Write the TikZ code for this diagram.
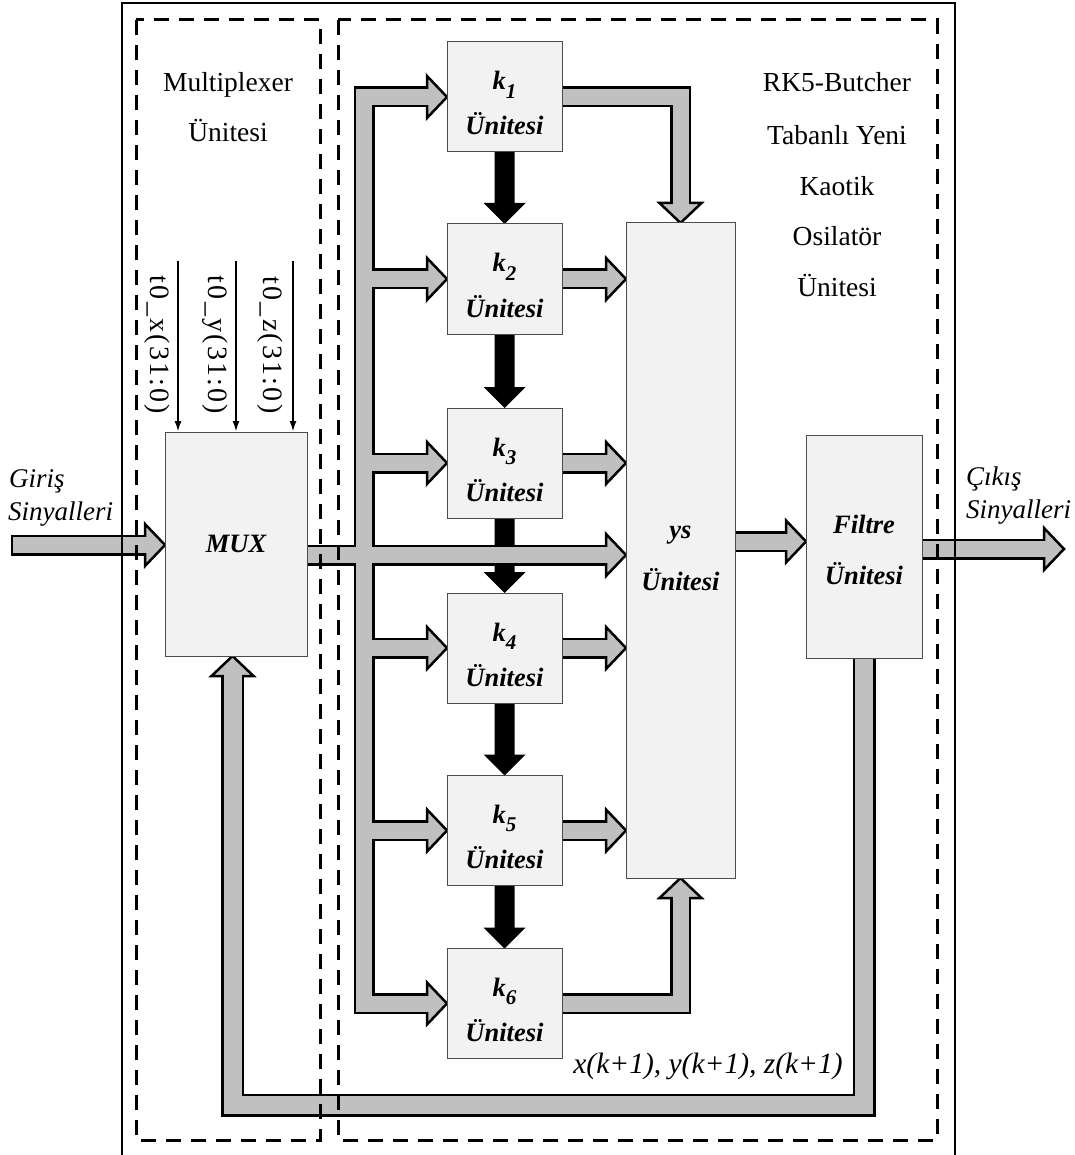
\documentclass[tikz,border=0pt]{standalone}
\usepackage{fontspec}
\setmainfont{Liberation Serif}
\usetikzlibrary{calc,arrows.meta}
\definecolor{busgray}{HTML}{C0C0C0}
\definecolor{boxfill}{HTML}{F2F2F2}
\pgfdeclarelayer{bg}
\pgfsetlayers{bg,main}
\newcommand\headR[1]{\draw[xhead] (#1) -- ++(-20,-21) -- ++(0,42) -- cycle;}
\newcommand\headD[1]{\draw[xhead] (#1) -- ++(-21,-20) -- ++(42,0) -- cycle;}
\newcommand\headU[1]{\draw[xhead] (#1) -- ++(-21,20) -- ++(42,0) -- cycle;}
\newcommand\karrow[2]{\fill ($(#1.south)+(-10,0)$) -- ($(#2.north)+(-10,-21)$) -- ($(#2.north)+(-21,-21)$) -- (#2.north) -- ($(#2.north)+(21,-21)$) -- ($(#2.north)+(10,-21)$) -- ($(#1.south)+(10,0)$) -- cycle;}
\newcommand\busshafts[2]{%
  \draw[#1] ($(k1.west)+(-16,0)$) -- (bx |- k1.west) -- (bx |- k6.west) -- ($(k6.west)+(-16,0)$);
  \foreach \kk in {k2,k3,k4,k5} {\draw[#1] (bx |- \kk.west) -- ($(\kk.west)+(-16,0)$);}
  \draw[#1] (mo) -- ($(mi)+(-16,0)$);
  \foreach \kk in {k2,k3,k4,k5} {\draw[#1] (\kk.east) -- ($(\kk.east -| ys.west)+(-16,0)$);}
  \draw[#1] (k1.east) -- (k1.east -| ys.north) -- ($(ys.north)+(0,-16)$);
  \draw[#1] (k6.east) -- (k6.east -| ys.south) -- ($(ys.south)+(0,16)$);
  \draw[#1] (yf -| ys.east) -- ($(yf)+(-16,0)$);
  \draw[#1] (filt.east |- outtip) -- ($(outtip)+(-16,0)$);
  \draw[#1] (instart) -- ($(intip)+(-16,0)$);
  \draw[#2] (filt.south) -- (filt.south |- fby) -- (fbx |- fby) -- ($(fbx)+(0,16)$);
}
\begin{document}
\begin{tikzpicture}[x=1pt,y=-1pt,
  xunit/.style={draw=black!70, line width=1pt, fill=boxfill, inner sep=0pt, outer sep=0pt},
  xbusout/.style={line width=21pt, draw=black, line join=miter},
  xbusin/.style={line width=16pt, draw=busgray, line join=miter},
  xfbout/.style={line width=23pt, draw=black, line join=miter},
  xfbin/.style={line width=18pt, draw=busgray, line join=miter},
  xhead/.style={fill=busgray, draw=black, line width=2.5pt, line join=miter},
  xregion/.style={draw=black, line width=3pt, dash pattern=on 15pt off 10pt},
  xframe/.style={draw=black, line width=1.2pt},
  xsig/.style={line width=2pt, -{Latex[length=11pt,width=7pt]}},
  xtitle/.style={font=\fontsize{27.5}{30}\selectfont, inner sep=0pt, anchor=base},
  xblbl/.style={font=\fontsize{26.5}{30}\selectfont\bfseries\itshape, inner sep=0pt, anchor=base},
  xilbl/.style={font=\fontsize{27}{30}\selectfont\itshape, inner sep=0pt, anchor=base west},
  xvlbl/.style={font=\fontsize{28}{30}\selectfont\addfontfeature{LetterSpace=8}, rotate=-90, inner sep=0pt},
]
\useasboundingbox (0,0) rectangle (1074,1155);

% units
\node[xunit, minimum width=142pt, minimum height=224pt] (mux) at (236,544) {};
\foreach \nm/\cy in {k1/97, k2/279, k3/463, k4/648, k5/830.5, k6/1003.5}
  \node[xunit, minimum width=115pt, minimum height=110pt] (\nm) at (504.5,\cy) {};
\node[xunit, minimum width=109pt, minimum height=655pt] (ys) at (680.5,550.5) {};
\node[xunit, minimum width=116pt, minimum height=223pt] (filt) at (864,546.5) {};

% helper coordinates
\coordinate (bx) at (364,0);
\coordinate (mo) at ($(mux.east)+(0,11)$);
\coordinate (mi) at (ys.west |- mo);
\coordinate (yf) at ($(filt.west)+(0,-5)$);
\coordinate (outtip) at ($(filt.east)+(142,2.5)$);
\coordinate (instart) at (12,545);
\coordinate (intip) at (mux.west |- instart);
\coordinate (fby) at (0,1105);
\coordinate (fbx) at ($(mux.south)+(-3.5,0)$);

\begin{pgfonlayer}{bg}
  \karrow{k1}{k2}
  \karrow{k2}{k3}
  \karrow{k3}{k4}
  \karrow{k4}{k5}
  \karrow{k5}{k6}
  \busshafts{xbusout}{xfbout}
  \foreach \kk in {k1,k2,k3,k4,k5,k6} {\headR{\kk.west}}
  \foreach \kk in {k2,k3,k4,k5} {\headR{\kk.east -| ys.west}}
  \headR{mi}
  \headD{ys.north}
  \headU{ys.south}
  \headR{yf}
  \headR{outtip}
  \headR{intip}
  \headU{fbx}
  \busshafts{xbusin}{xfbin}
  \draw[line width=2.5pt] ($(instart)+(0,-10.5)$) -- ($(instart)+(0,10.5)$);
\end{pgfonlayer}

% signal inputs of MUX
\coordinate (tx) at ($(mux.north west)+(13,-171)$);
\coordinate (ty) at ($(mux.north)+(0,-171)$);
\coordinate (tz) at ($(mux.north east)+(-14,-171)$);
\draw[xsig] (tx) -- (tx |- mux.north);
\draw[xsig] (ty) -- (mux.north);
\draw[xsig] (tz) -- (tz |- mux.north);
\node[xvlbl] (lx) at (157,345) {t0\_x(31:0)};
\node[xvlbl] (ly) at (215,345) {t0\_y(31:0)};
\node[xvlbl] (lz) at (270,345) {t0\_z(31:0)};

% regions and frame
\draw[xregion] (136,20) rectangle (320,1140);
\draw[xregion] (338,20) rectangle (937,1140);
\draw[xframe] (122,1160) -- (122,3) -- (955,3) -- (955,1160);

% labels
\node[xtitle] (m1) at (228,92) {Multiplexer};
\node[xtitle] (m2) at (228,142) {Ünitesi};
\node[xtitle] (r1) at (837,92) {RK5-Butcher};
\node[xtitle] (r2) at (837,145) {Tabanlı Yeni};
\node[xtitle] (r3) at (837,196) {Kaotik};
\node[xtitle] (r4) at (837,246) {Osilatör};
\node[xtitle] (r5) at (837,296) {Ünitesi};

\foreach \nm/\ix in {k1/1,k2/2,k3/3,k4/4,k5/5,k6/6} {
  \node[xblbl] (\nm a) at ($(\nm.center)+(0,-7)$) {k\raisebox{-0.32em}{\fontsize{21}{21}\selectfont\ix}};
  \node[xblbl] (\nm b) at ($(\nm.center)+(0,38)$) {Ünitesi};
}
\node[xblbl] (ysa) at ($(ys.center)+(0,-12.5)$) {ys};
\node[xblbl] (ysb) at ($(ys.center)+(0,39.5)$) {Ünitesi};
\node[xblbl] (fa) at ($(filt.center)+(0,-13.5)$) {Filtre};
\node[xblbl] (fb) at ($(filt.center)+(0,37.5)$) {Ünitesi};
\node[xblbl, anchor=center] (muxl) at (mux.center) {MUX};

\node[xilbl] (g1) at (9,487) {Giriş};
\node[xilbl] (g2) at (8,520) {Sinyalleri};
\node[xilbl] (c1) at (966,485) {Çıkış};
\node[xilbl] (c2) at (966,518) {Sinyalleri};
\node[xilbl, font=\fontsize{29.5}{30}\selectfont\itshape, anchor=base] (fbl) at (708,1073) {x(k+1), y(k+1), z(k+1)};
\end{tikzpicture}
\end{document}
